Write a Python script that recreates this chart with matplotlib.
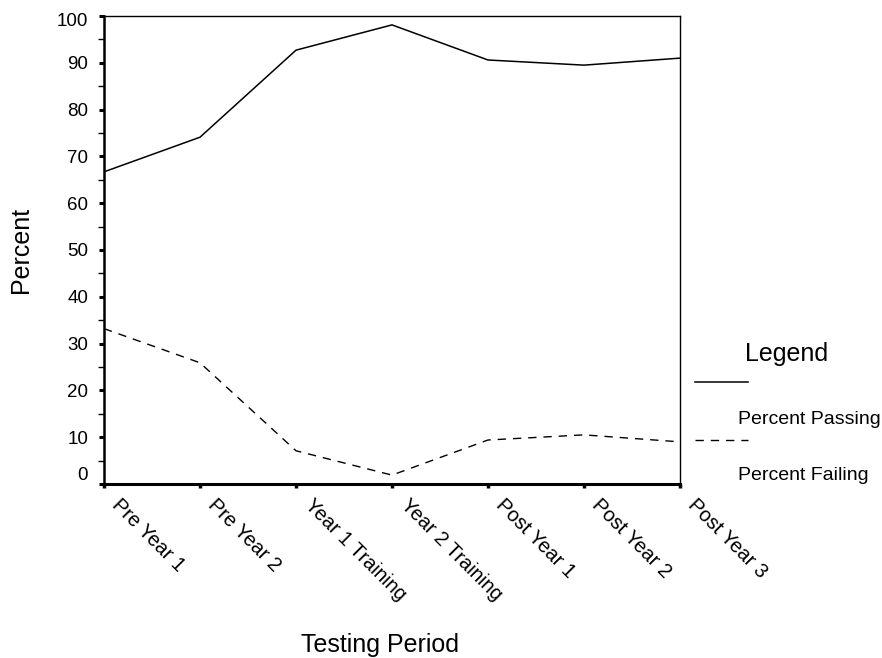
import numpy as np
import matplotlib.pyplot as plt
from matplotlib.lines import Line2D
from matplotlib.transforms import ScaledTranslation

plt.rcParams['font.family'] = ['Liberation Sans', 'DejaVu Sans']

# 数据
periods = ["Pre Year 1", "Pre Year 2", "Year 1 Training", "Year 2 Training",
           "Post Year 1", "Post Year 2", "Post Year 3"]
passing = [66.7, 74.1, 92.7, 98.1, 90.6, 89.5, 91.0]
failing = [33.2, 25.9, 7.1, 1.9, 9.4, 10.5, 9.0]

W, H = 882, 658
fig = plt.figure(figsize=(W / 100, H / 100), dpi=100)
ax = fig.add_axes([104 / W, 1 - 484 / H, 576 / W, 468 / H])

x = np.arange(len(periods))
ax.plot(x, passing, color="black", lw=1.1)
ax.plot(x, failing, color="black", lw=1.0, dashes=(6, 5))

ax.set_xlim(0, len(periods) - 1)
ax.set_ylim(0, 100)

# 坐标轴样式
ax.spines['bottom'].set_linewidth(2.2)
ax.spines['left'].set_linewidth(1.8)
ax.spines['top'].set_linewidth(1.0)
ax.spines['right'].set_linewidth(1.0)

ax.set_yticks(np.arange(0, 101, 10))
ax.set_yticks(np.arange(5, 100, 10), minor=True)
ax.tick_params(axis='y', which='major', length=3.5, width=2.2, labelsize=13.5, pad=8)
ax.tick_params(axis='y', which='minor', length=4.5, width=1.0)
ax.set_xticks(x)
ax.set_xticklabels(periods)
ax.tick_params(axis='x', which='major', length=3, width=2.5, labelsize=14.5, pad=5)

shift = ScaledTranslation(18 / 100, 0, fig.dpi_scale_trans)
for lab in ax.get_xticklabels():
    lab.set_rotation(-45)
    lab.set_rotation_mode('anchor')
    lab.set_ha('left')
    lab.set_va('top')
    lab.set_transform(lab.get_transform() + shift)

# 0 的刻度标签略高于轴线, 100 略低
ylabs = ax.get_yticklabels()
ylabs[0].set_transform(ylabs[0].get_transform() + ScaledTranslation(0, 11 / 100, fig.dpi_scale_trans))
ylabs[-1].set_transform(ylabs[-1].get_transform() + ScaledTranslation(0, -3 / 100, fig.dpi_scale_trans))

fig.text(21 / W, 1 - 250 / H, "Percent", fontsize=18, rotation=90, ha='center', va='center')
fig.text(380 / W, 1 - 652 / H, "Testing Period", fontsize=18, ha='center', va='baseline')

# 图例
fig.text(745 / W, 1 - 361 / H, "Legend", fontsize=18, ha='left', va='baseline')
fig.add_artist(Line2D([695 / W, 748 / W], [1 - 382 / H, 1 - 382 / H],
                      color="black", lw=1.1, transform=fig.transFigure))
fig.text(738 / W, 1 - 424 / H, "Percent Passing", fontsize=14, ha='left', va='baseline')
fig.add_artist(Line2D([695 / W, 748 / W], [1 - 440 / H, 1 - 440 / H],
                      color="black", lw=1.0, dashes=(6, 5), transform=fig.transFigure))
fig.text(738 / W, 1 - 480 / H, "Percent Failing", fontsize=14, ha='left', va='baseline')

fig.savefig("out.png", dpi=100)
